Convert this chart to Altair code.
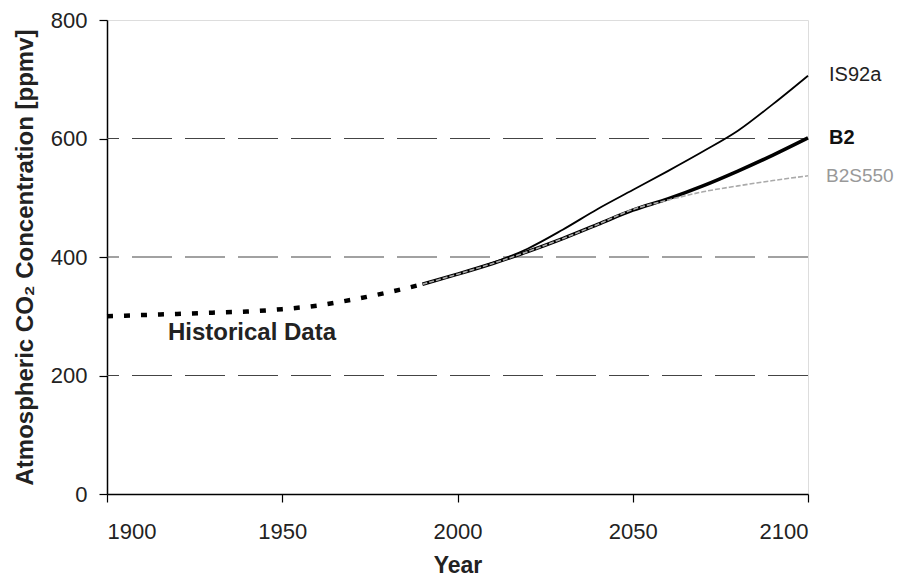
import altair as alt
import pandas as pd

# Historical data (dotted)
hist_years = [1900, 1910, 1920, 1930, 1940, 1950, 1960, 1970, 1980, 1990]
hist_co2 = [300, 302, 304, 306, 308, 312, 318, 328, 340, 354]

# Scenarios
scen_years = [1990, 2000, 2010, 2020, 2030, 2040, 2050, 2060, 2070, 2080, 2090, 2100]
is92a = [354, 371, 390, 414, 446, 481, 513, 545, 578, 613, 658, 706]
b2 = [354, 371, 389, 409, 431, 455, 479, 498, 520, 545, 572, 601]
b2s550 = [354, 371, 389, 409, 431, 455, 480, 496, 510, 520, 529, 537]

grid_values = [200, 400, 600]
x_ticks = [1900, 1950, 2000, 2050, 2100]
y_ticks = [0, 200, 400, 600, 800]

label_names = ["IS92a", "B2", "B2S550"]
label_values = [707, 601, 536]

FONT = "Liberation Sans"

hist_df = pd.DataFrame({"Year": hist_years, "CO2": hist_co2})
is_df = pd.DataFrame({"Year": scen_years, "CO2": is92a})
b2_df = pd.DataFrame({"Year": scen_years, "CO2": b2})
b2s_df = pd.DataFrame({"Year": scen_years, "CO2": b2s550})
grid_df = pd.DataFrame({"CO2": grid_values})
lab_df = pd.DataFrame({"Year": [2100] * 3, "CO2": label_values, "name": label_names})

xscale = alt.Scale(domain=[1900, 2100], nice=False, zero=False)
yscale = alt.Scale(domain=[0, 800], nice=False)

xenc = alt.X(
    "Year:Q", scale=xscale,
    axis=alt.Axis(values=x_ticks, format="d", title="Year", grid=False,
                  labelFontSize=22, labelFont=FONT, labelColor="#222",
                  labelPadding=19, tickSize=8, tickColor="black", domainColor="black",
                  domainWidth=1.5, tickWidth=1.2,
                  titleFont=FONT, titleFontSize=23, titleFontWeight="bold",
                  titleColor="#222", titlePadding=12),
)
yenc = alt.Y(
    "CO2:Q", scale=yscale,
    axis=alt.Axis(values=y_ticks, title="Atmospheric CO\u2082 Concentration [ppmv]", grid=False,
                  labelFontSize=22, labelFont=FONT, labelColor="#222",
                  labelPadding=12, tickSize=8, tickColor="black", domainColor="black",
                  domainWidth=1.5, tickWidth=1.2,
                  titleFont=FONT, titleFontSize=24, titleFontWeight="bold",
                  titleColor="#222", titlePadding=13),
)

grid = alt.Chart(grid_df).mark_rule(color="#444", strokeWidth=1.2, strokeDash=[40, 13]).encode(
    y=alt.Y("CO2:Q", scale=yscale)
)

hist = alt.Chart(hist_df).mark_line(color="black", strokeWidth=4.5, strokeDash=[6, 11],
                                    strokeCap="butt", interpolate="monotone").encode(x=xenc, y=yenc)

is_line = alt.Chart(is_df).mark_line(color="black", strokeWidth=1.8,
                                     interpolate="monotone").encode(x="Year:Q", y="CO2:Q")
b2_line = alt.Chart(b2_df).mark_line(color="black", strokeWidth=3.5,
                                     interpolate="monotone").encode(x="Year:Q", y="CO2:Q")
b2s_line = alt.Chart(b2s_df).mark_line(color="#aaaaaa", strokeWidth=1.6, strokeDash=[5, 2],
                                       interpolate="monotone").encode(x="Year:Q", y="CO2:Q")

hist_text = alt.Chart(pd.DataFrame({"Year": [1917.4], "CO2": [272], "t": ["Historical Data"]})).mark_text(
    align="left", baseline="middle", font=FONT, fontSize=24, fontWeight="bold", color="#222"
).encode(x="Year:Q", y="CO2:Q", text="t:N")

lab_is = alt.Chart(lab_df[lab_df["name"] == "IS92a"]).mark_text(
    align="left", baseline="middle", dx=21, font=FONT, fontSize=20, color="#222"
).encode(x="Year:Q", y="CO2:Q", text="name:N")
lab_b2 = alt.Chart(lab_df[lab_df["name"] == "B2"]).mark_text(
    align="left", baseline="middle", dx=21, font=FONT, fontSize=20, fontWeight="bold", color="#111"
).encode(x="Year:Q", y="CO2:Q", text="name:N")
lab_b2s = alt.Chart(lab_df[lab_df["name"] == "B2S550"]).mark_text(
    align="left", baseline="middle", dx=18, font=FONT, fontSize=19, color="#999"
).encode(x="Year:Q", y="CO2:Q", text="name:N")

chart = alt.layer(
    grid, hist, is_line, b2_line, b2s_line, hist_text, lab_is, lab_b2, lab_b2s
).properties(
    width=701, height=474,
    autosize=alt.AutoSizeParams(type="none"),
    padding={"left": 99, "top": 12, "right": 108, "bottom": 85},
).configure_view(
    stroke="black", strokeWidth=1.5
).configure(background="white")

chart.save("out.html", embed_options={"renderer": "svg", "actions": False})
